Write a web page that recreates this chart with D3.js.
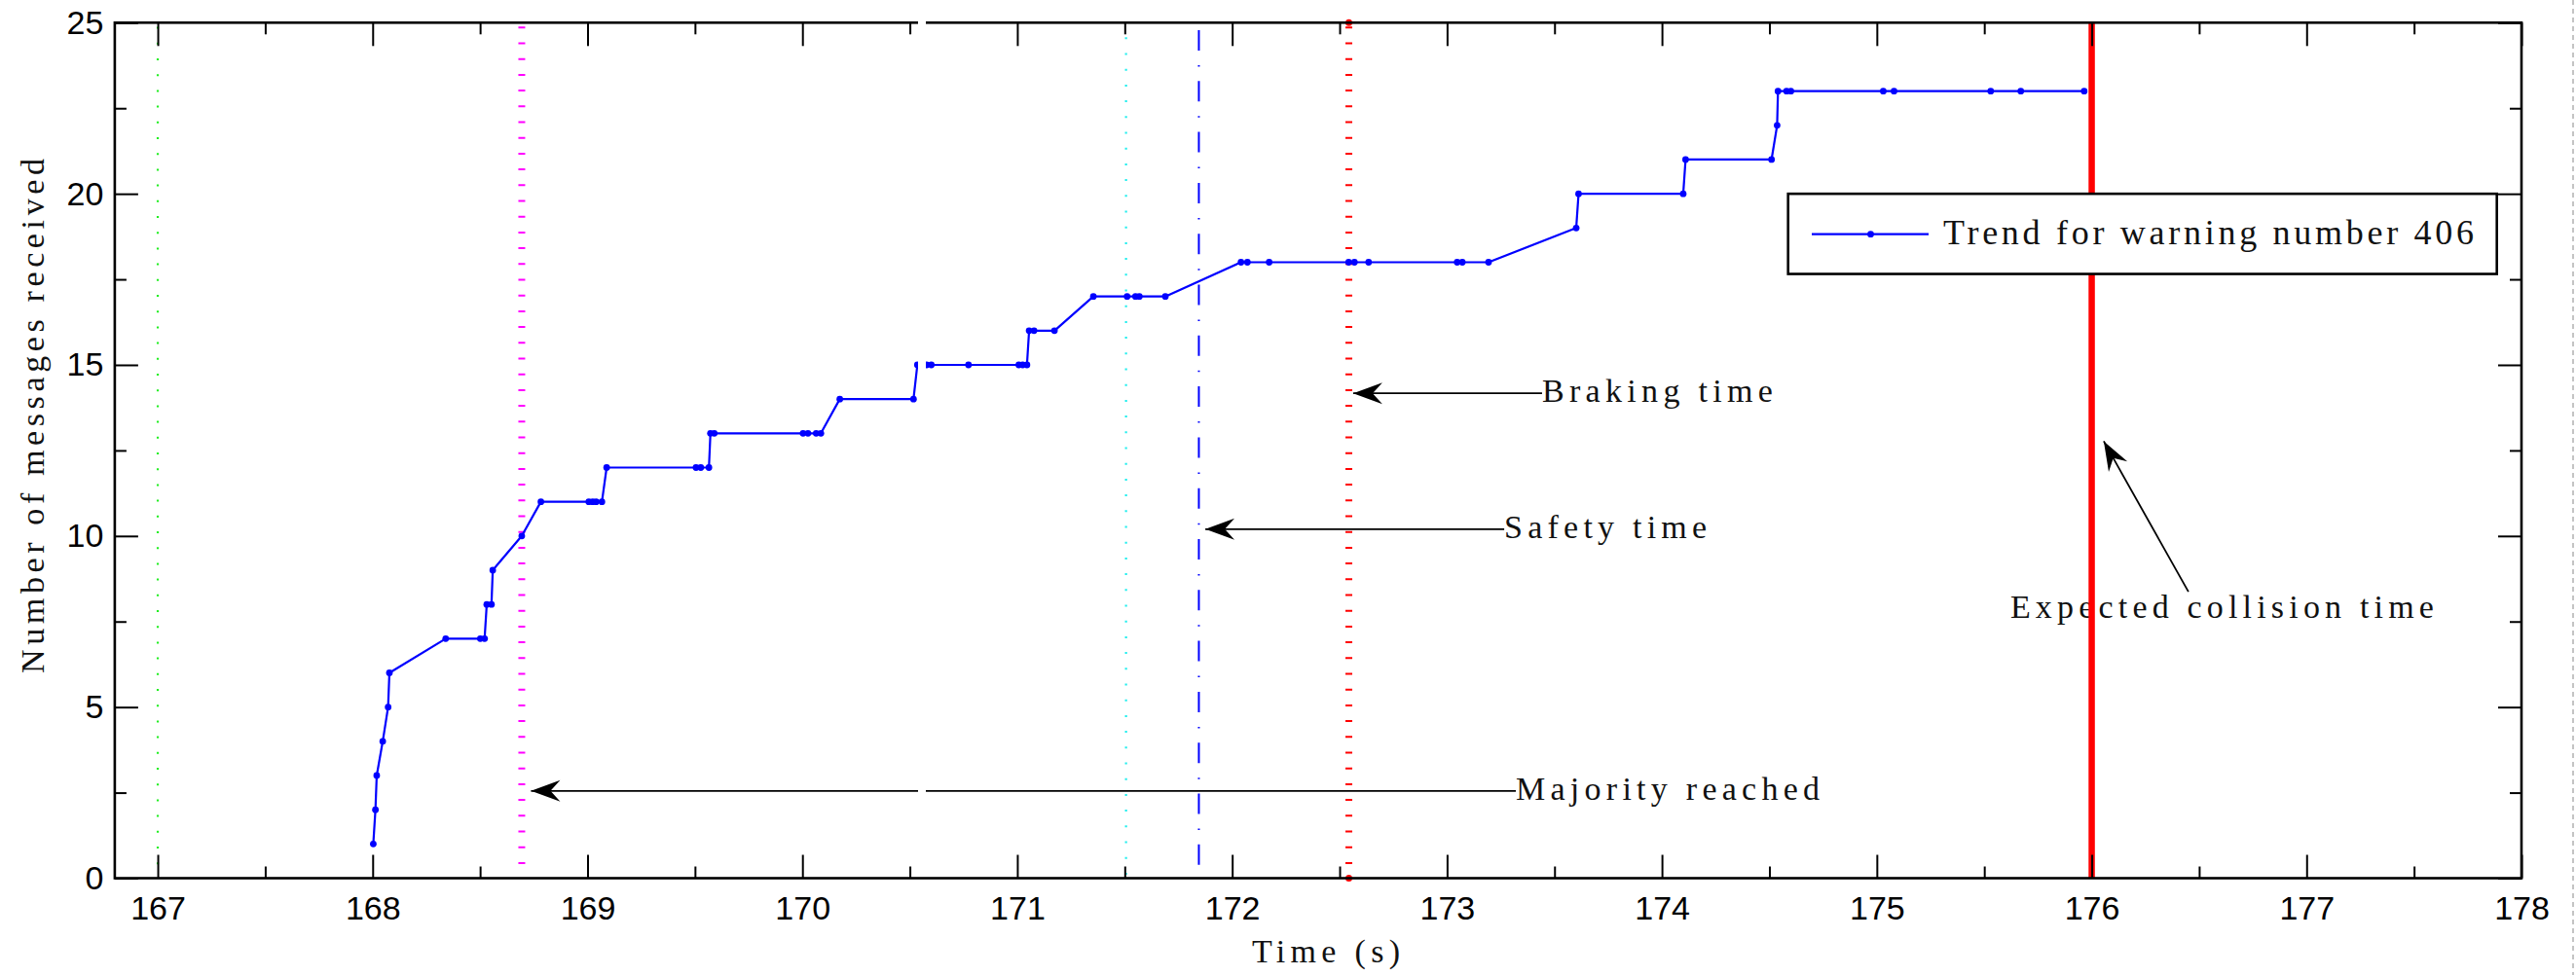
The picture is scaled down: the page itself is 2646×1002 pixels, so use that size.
<!DOCTYPE html>
<html>
<head>
<meta charset="utf-8">
<script src="https://cdn.jsdelivr.net/npm/d3@7"></script>
<style>
  html, body { margin: 0; padding: 0; background: #fff; }
  svg { display: block; }
</style>
</head>
<body>
<svg id="chart" width="2646" height="1002"></svg>
<script>
// Arrival time (s) of each message and the running count of messages received
const times = [
  168.003, 168.013, 168.019, 168.047, 168.072, 168.078, 168.340,
  168.501, 168.521, 168.531, 168.553, 168.559, 168.694, 168.783,
  169.006, 169.024, 169.040, 169.067, 169.089, 169.505, 169.527, 169.565,
  169.572, 169.590, 170.003, 170.026, 170.064, 170.086, 170.174, 170.517,
  170.535, 170.578, 170.600, 170.773, 171.007, 171.025, 171.045,
  171.055, 171.078, 171.173, 171.354, 171.511, 171.550, 171.568, 171.689,
  172.041, 172.071, 172.172, 172.542, 172.569, 172.635, 173.047, 173.071,
  173.193, 173.601, 173.612, 174.099, 174.110, 174.510, 174.536, 174.540,
  174.580, 174.600, 175.030, 175.080, 175.530, 175.670, 175.965
];
const counts = [
  1, 2, 3, 4, 5, 6, 7,
  7, 7, 8, 8, 9, 10, 11,
  11, 11, 11, 11, 12, 12, 12, 12,
  13, 13, 13, 13, 13, 13, 14, 14,
  15, 15, 15, 15, 15, 15, 15,
  16, 16, 16, 17, 17, 17, 17, 17,
  18, 18, 18, 18, 18, 18, 18, 18,
  18, 19, 20, 20, 21, 21, 22, 23,
  23, 23, 23, 23, 23, 23, 23
];

// Axis ticks
const xMajorTicks = [167, 168, 169, 170, 171, 172, 173, 174, 175, 176, 177, 178];
const xMinorTicks = [167.5, 168.5, 169.5, 170.5, 171.5, 172.5, 173.5, 174.5, 175.5, 176.5, 177.5];
const yMajorTicks = [0, 5, 10, 15, 20, 25];
const yMinorTicks = [2.5, 7.5, 12.5, 17.5, 22.5];

// Event instants (s)
const eventNames = ["warning", "majority", "checkpoint", "safety", "braking", "collision"];
const eventTimes = [167.0, 168.694, 171.506, 171.845, 172.543, 176.0];

// Text arrows: tip, tail and text anchor in data units
const noteLabels = ["Braking time", "Safety time", "Majority reached", "Expected collision time"];
const noteTips   = [[172.563, 14.17], [171.875, 10.2], [168.737, 2.55], [176.056, 12.77]];
const noteTails  = [[173.442, 14.17], [173.266, 10.2], [173.320, 2.55], [176.450, 8.37]];
const noteTexts  = [[173.442, 13.91], [173.266, 9.93], [173.320, 2.30], [175.621, 7.60]];
const noteWidths = [237, 208, 312, 435];

const legendLabel = "Trend for warning number 406";

const svg = d3.select("#chart");
const serif = "'Liberation Serif', 'DejaVu Serif', serif";
const sans = "'Liberation Sans', Arial, sans-serif";

const x = d3.scaleLinear().domain([166.8, 178]).range([117.9, 2590]);
const y = d3.scaleLinear().domain([0, 25]).range([902.5, 23.3]);

// Vertical event markers
const eventStyle = {
  warning:    { stroke: "#22ee22", width: 2.2, dash: "2 14.2", offset: 11.9 },
  majority:   { stroke: "#ff00ff", width: 7, dash: "2 14.2", offset: 12.2 },
  checkpoint: { stroke: "#22eeee", width: 2.2, dash: "2 14.2", offset: 1.2 },
  safety:     { stroke: "#0000ff", width: 2, dash: "21 15 1.5 14.8", offset: 44.6 },
  braking:    { stroke: "#ff0000", width: 7, dash: "2 14.2", offset: 12.2 }
};
const gEvents = svg.append("g");
eventNames.forEach((name, i) => {
  if (!eventStyle[name]) return;
  const s = eventStyle[name];
  gEvents.append("line")
    .attr("x1", x(eventTimes[i])).attr("x2", x(eventTimes[i]))
    .attr("y1", y(25)).attr("y2", y(0))
    .attr("stroke", s.stroke).attr("stroke-width", s.width)
    .attr("stroke-dasharray", s.dash).attr("stroke-dashoffset", s.offset);
});
// end dots of the braking marker
const brakingX = eventTimes[eventNames.indexOf("braking")];
gEvents.selectAll("circle.bend").data([0, 25]).join("circle")
  .attr("cx", x(brakingX)).attr("cy", d => y(d)).attr("r", 3.5).attr("fill", "#ff0000");

// Message count trend
const idx = d3.range(times.length);
const line = d3.line().x(i => x(times[i])).y(i => y(counts[i]));
svg.append("path").datum(idx)
  .attr("d", line).attr("fill", "none")
  .attr("stroke", "#0000ff").attr("stroke-width", 2.2).attr("stroke-linejoin", "round");
svg.append("g").selectAll("circle").data(idx).join("circle")
  .attr("cx", i => x(times[i])).attr("cy", i => y(counts[i]))
  .attr("r", 3.4).attr("fill", "#0000ff");

// Annotations with arrows
const gNotes = svg.append("g");
noteLabels.forEach((label, i) => {
  const tx = x(noteTips[i][0]), ty = y(noteTips[i][1]);
  const sx = x(noteTails[i][0]), sy = y(noteTails[i][1]);
  const ang = Math.atan2(ty - sy, tx - sx) * 180 / Math.PI;
  gNotes.append("line")
    .attr("x1", sx).attr("y1", sy).attr("x2", tx).attr("y2", ty)
    .attr("stroke", "#000").attr("stroke-width", 1.8);
  gNotes.append("path")
    .attr("d", "M0,0 L-30,-11 L-20,0 L-30,11 Z")
    .attr("transform", `translate(${tx},${ty}) rotate(${ang})`)
    .attr("fill", "#000");
  gNotes.append("text")
    .attr("x", x(noteTexts[i][0])).attr("y", y(noteTexts[i][1]))
    .attr("font-family", serif).attr("font-size", 34)
    .attr("textLength", noteWidths[i]).attr("lengthAdjust", "spacing")
    .attr("fill", "#111")
    .text(label);
});

// Collision instant: solid thick red line
const collisionX = eventTimes[eventNames.indexOf("collision")];
svg.append("line")
  .attr("x1", x(collisionX)).attr("x2", x(collisionX))
  .attr("y1", y(25)).attr("y2", y(0))
  .attr("stroke", "#ff0000").attr("stroke-width", 6.5);

// Axes: ticks drawn inward on all four sides
function styleAxis(g) {
  g.select(".domain").remove();
  g.selectAll(".tick line").attr("stroke", "#000").attr("stroke-width", 2);
}
const gxB = svg.append("g").attr("transform", `translate(0,${y(0)})`)
  .call(d3.axisBottom(x).tickValues(xMajorTicks).tickSizeInner(-24).tickSizeOuter(0)
    .tickPadding(0).tickFormat(d3.format("d")));
styleAxis(gxB);
gxB.selectAll("text").attr("y", 42.5).attr("dy", null)
  .attr("font-family", sans).attr("font-size", 34).attr("fill", "#000");
svg.append("g").attr("transform", `translate(0,${y(0)})`)
  .call(d3.axisBottom(x).tickValues(xMinorTicks).tickSizeInner(-12).tickSizeOuter(0).tickFormat(""))
  .call(styleAxis);
svg.append("g").attr("transform", `translate(0,${y(25)})`)
  .call(d3.axisTop(x).tickValues(xMajorTicks).tickSizeInner(-24).tickSizeOuter(0).tickFormat(""))
  .call(styleAxis);
svg.append("g").attr("transform", `translate(0,${y(25)})`)
  .call(d3.axisTop(x).tickValues(xMinorTicks).tickSizeInner(-12).tickSizeOuter(0).tickFormat(""))
  .call(styleAxis);

const gyL = svg.append("g").attr("transform", `translate(${x(166.8)},0)`)
  .call(d3.axisLeft(y).tickValues(yMajorTicks).tickSizeInner(-24).tickSizeOuter(0)
    .tickPadding(11.6).tickFormat(d3.format("d")));
styleAxis(gyL);
gyL.selectAll("text").attr("font-family", sans).attr("font-size", 34).attr("fill", "#000");
svg.append("g").attr("transform", `translate(${x(166.8)},0)`)
  .call(d3.axisLeft(y).tickValues(yMinorTicks).tickSizeInner(-12).tickSizeOuter(0).tickFormat(""))
  .call(styleAxis);
svg.append("g").attr("transform", `translate(${x(178)},0)`)
  .call(d3.axisRight(y).tickValues(yMajorTicks).tickSizeInner(-24).tickSizeOuter(0).tickFormat(""))
  .call(styleAxis);
svg.append("g").attr("transform", `translate(${x(178)},0)`)
  .call(d3.axisRight(y).tickValues(yMinorTicks).tickSizeInner(-12).tickSizeOuter(0).tickFormat(""))
  .call(styleAxis);

// Plot frame
svg.append("rect")
  .attr("x", x(166.8)).attr("y", y(25))
  .attr("width", x(178) - x(166.8)).attr("height", y(0) - y(25))
  .attr("fill", "none").attr("stroke", "#000").attr("stroke-width", 2.6);

// Legend
const lg = svg.append("g");
lg.append("rect").attr("x", 1836.7).attr("y", y(20)).attr("width", 728).attr("height", 82.4)
  .attr("fill", "#fff").attr("stroke", "#000").attr("stroke-width", 2.6);
lg.append("line").attr("x1", 1861).attr("x2", 1981).attr("y1", 240.7).attr("y2", 240.7)
  .attr("stroke", "#0000ff").attr("stroke-width", 2.2);
lg.append("circle").attr("cx", 1921.5).attr("cy", 240.7).attr("r", 3.4).attr("fill", "#0000ff");
lg.append("text").attr("x", 1996).attr("y", 251)
  .attr("font-family", serif).attr("font-size", 36)
  .attr("textLength", 545).attr("lengthAdjust", "spacing").attr("fill", "#111")
  .text(legendLabel);

// Axis titles
svg.append("text")
  .attr("transform", "translate(44.6,427.5) rotate(-90)")
  .attr("text-anchor", "middle")
  .attr("font-family", serif).attr("font-size", 34)
  .attr("textLength", 529).attr("lengthAdjust", "spacing").attr("fill", "#111")
  .text("Number of messages received");
svg.append("text")
  .attr("x", 1286).attr("y", 989)
  .attr("font-family", serif).attr("font-size", 34)
  .attr("textLength", 152).attr("lengthAdjust", "spacing").attr("fill", "#111")
  .text("Time (s)");

// Blank strip cutting through the upper part of the figure
svg.append("rect").attr("x", 943).attr("y", 0).attr("width", 8).attr("height", 897).attr("fill", "#fff");

// Page edge on the right
svg.append("line").attr("x1", 2643).attr("x2", 2643).attr("y1", 0).attr("y2", 1002)
  .attr("stroke", "#c4c4c4").attr("stroke-width", 2).attr("stroke-dasharray", "5 4");
</script>
</body>
</html>
